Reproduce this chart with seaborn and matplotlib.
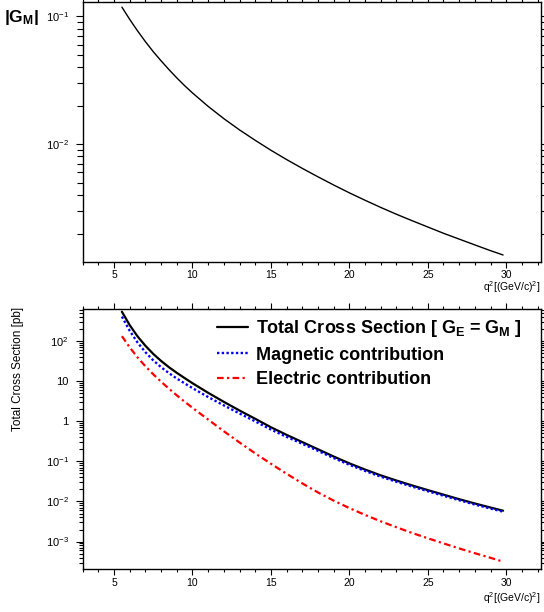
import matplotlib
matplotlib.use("Agg")
import matplotlib.pyplot as plt
import matplotlib.ticker as mticker
import seaborn as sns
import pandas as pd

# values
q2 = [5.5, 6, 6.5, 7, 7.5, 8, 8.5, 9, 9.5, 10, 11, 12, 13, 14, 15, 16, 17, 18, 19,
      20, 21, 22, 23, 24, 25, 26, 27, 28, 29, 29.8]
gm = [0.1175, 0.0942, 0.0766, 0.0631, 0.0527, 0.0447, 0.0382, 0.0329, 0.0286, 0.0251,
      0.0197, 0.0158, 0.0129, 0.0107, 0.00895, 0.00757, 0.00646, 0.00555, 0.00479,
      0.00416, 0.00364, 0.00320, 0.00283, 0.00252, 0.00225, 0.00201, 0.00181,
      0.00163, 0.00147, 0.00136]
total = [537, 248, 130, 75.9, 47.6, 31.8, 22.2, 16.1, 11.9, 8.87, 5.11, 3.04, 1.85,
         1.15, 0.708, 0.457, 0.302, 0.200, 0.132, 0.0891, 0.0624, 0.0447, 0.0333,
         0.0251, 0.0192, 0.0148, 0.0114, 0.00891, 0.00705, 0.00589]
magnetic = [406, 179, 91.4, 52.5, 32.9, 22.2, 15.8, 11.6, 8.79, 6.70, 4.01, 2.48, 1.56,
            0.991, 0.621, 0.408, 0.274, 0.183, 0.121, 0.0822, 0.0578, 0.0415, 0.0310,
            0.0235, 0.0180, 0.0139, 0.01075, 0.00839, 0.00665, 0.00557]
electric = [132, 69.2, 38.9, 23.4, 14.8, 9.66, 6.46, 4.42, 3.07, 2.16, 1.10, 0.562,
            0.295, 0.158, 0.0871, 0.0490, 0.0282, 0.0168, 0.0105, 0.00684, 0.00462,
            0.00320, 0.00228, 0.00164, 0.00121, 0.000902, 0.000676, 0.000513,
            0.000394, 0.000316]

labels = ["Total Cross Section [ $\\mathbf{G}_\\mathbf{E}$ = $\\mathbf{G}_\\mathbf{M}$ ]",
          "Magnetic contribution", "Electric contribution"]

sns.set_style("ticks", {'xtick.color': 'black', 'ytick.color': 'black',
                        'text.color': 'black', 'axes.edgecolor': 'black'})
plt.rcParams['font.family'] = ['Liberation Sans', 'DejaVu Sans']
plt.rcParams['mathtext.fontset'] = 'custom'
plt.rcParams['mathtext.rm'] = 'Liberation Sans'
plt.rcParams['mathtext.it'] = 'Liberation Sans:italic'
plt.rcParams['mathtext.bf'] = 'Liberation Sans:bold'

fig = plt.figure(figsize=(5.44, 6.12), dpi=100)
ax1 = fig.add_axes([0.152, 0.572, 0.842, 0.4248])
ax2 = fig.add_axes([0.152, 0.0698, 0.842, 0.4248])

df_gm = pd.DataFrame({'q2': q2, 'gm': gm})
sns.lineplot(data=df_gm, x='q2', y='gm', ax=ax1, color='black', lw=1.0,
             estimator=None, sort=False)

df_xs = pd.DataFrame({'q2': q2, 'total': total, 'mag': magnetic, 'elec': electric})
sns.lineplot(data=df_xs, x='q2', y='total', ax=ax2, color='black', lw=1.6,
             estimator=None, label=labels[0])
sns.lineplot(data=df_xs, x='q2', y='mag', ax=ax2, color='#0000ff', lw=1.7,
             estimator=None, label=labels[1])
sns.lineplot(data=df_xs, x='q2', y='elec', ax=ax2, color='#ff0000', lw=1.6,
             estimator=None, label=labels[2])
ax2.lines[1].set_dashes((1, 1))
ax2.lines[2].set_dashes((3, 1.5, 1, 1.5))

for ax in (ax1, ax2):
    ax.set_yscale('log')
    ax.set_xlim(3.0, 32.2)
    ax.set_xlabel('')
    ax.set_ylabel('')
    ax.xaxis.set_major_locator(mticker.MultipleLocator(5))
    ax.xaxis.set_minor_locator(mticker.MultipleLocator(1))
    ax.tick_params(which='both', direction='out', top=True, right=True,
                   labelsize=8, width=0.8, color='black', labelcolor='black')
    ax.tick_params(axis='x', which='major', length=4, pad=2, labelsize=7.5)
    ax.tick_params(axis='x', which='minor', length=2)
    ax.tick_params(axis='y', which='major', length=5, pad=5)
    ax.tick_params(axis='y', which='minor', length=4)
    for s in ax.spines.values():
        s.set_linewidth(1.0)
        s.set_color('black')

ax1.set_ylim(0.0012, 0.129)
ax2.set_ylim(2.04e-4, 617)
ax2.yaxis.set_major_locator(mticker.FixedLocator([1e-3, 1e-2, 1e-1, 1, 10, 100]))
ax2.yaxis.set_major_formatter(mticker.FixedFormatter(
    ['$10^{-3}$', '$10^{-2}$', '$10^{-1}$', '1', '10', '$10^{2}$']))
ax2.yaxis.set_minor_locator(mticker.LogLocator(base=10, subs=range(2, 10), numticks=20))
ax2.yaxis.set_minor_formatter(mticker.NullFormatter())
ax2.tick_params(axis='y', which='minor', length=3)

leg = ax2.legend(loc='upper left', bbox_to_anchor=(0.293, 0.965), frameon=False,
                 prop={'weight': 'bold', 'size': 13}, handlelength=1.72,
                 handletextpad=0.45, labelspacing=0.4, borderpad=0, borderaxespad=0)

fig.text(0.008, 0.971, '$\\mathbf{|G}_\\mathbf{M}\\mathbf{|}$', fontsize=12.5,
         va='center', ha='left')
fig.text(0.994, 0.531, 'q$^{2}$[(GeV/c)$^{2}$]', fontsize=7.5, ha='right', va='center')
fig.text(0.994, 0.022, 'q$^{2}$[(GeV/c)$^{2}$]', fontsize=7.5, ha='right', va='center')
fig.text(0.033, 0.499, 'Total Cross Section [pb]', fontsize=8.5, rotation=90,
         ha='center', va='top')

fig.savefig('out.png', dpi=100)
